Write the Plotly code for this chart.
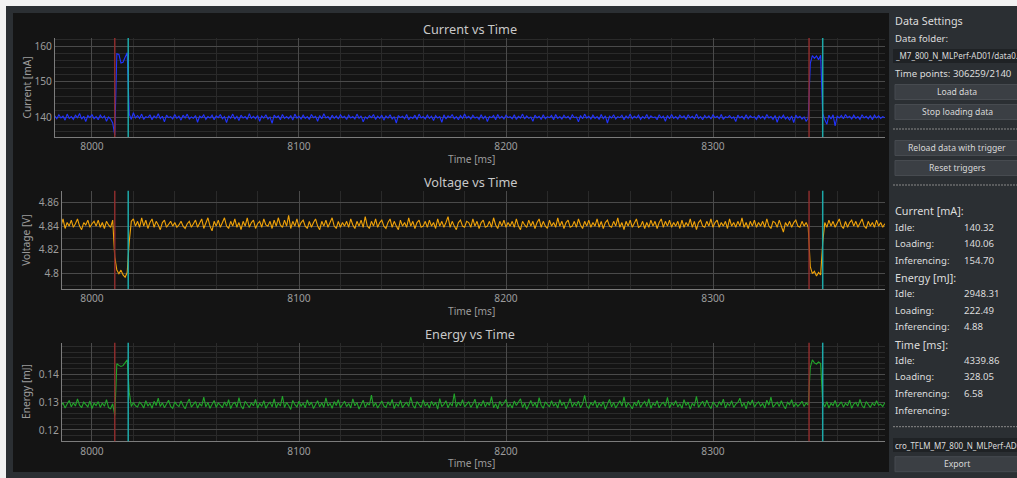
import plotly.graph_objects as go

# ---------------------------------------------------------------- data
time_ms = list(range(7982, 8384))

current_ma = [
    140.4, 139.6, 140.7, 139.8, 140.3, 139.2, 140.9, 139.7, 140.2, 139.4, 140.6, 139.9, 141.1, 139.5, 140.3, 138.8, 140.5, 139.9, 140.8, 139.6,
    140.2, 139.3, 140.6, 139.8, 140.4, 138.9, 140.1, 139.5, 138.4, 135.0, 157.9, 157.7, 155.3, 155.5, 156.9, 158.2, 140.9, 139.4, 141.3, 139.8,
    140.5, 139.7, 140.9, 139.4, 140.2, 139.9, 140.7, 139.3, 140.4, 139.8, 141.0, 139.6, 140.3, 138.7, 140.6, 139.9, 140.2, 139.5, 140.8, 139.7,
    140.3, 139.2, 140.6, 139.8, 140.9, 139.5, 140.1, 139.7, 140.5, 138.6, 140.3, 139.9, 140.7, 139.4, 140.2, 139.8, 140.6, 139.3, 140.4, 139.9,
    140.8, 139.6, 140.2, 138.5, 140.4, 139.7, 140.9, 139.5, 140.3, 139.1, 140.6, 139.8, 140.2, 139.4, 141.0, 139.7, 140.3, 139.6, 140.5, 138.9,
    140.4, 139.8, 140.7, 139.5, 140.1, 138.3, 140.6, 139.9, 140.4, 139.3, 140.8, 139.7, 140.2, 139.6, 140.5, 139.2, 140.9, 139.8, 140.3, 139.5,
    140.6, 139.7, 140.2, 139.4, 140.8, 139.9, 140.3, 138.9, 140.5, 139.6, 141.0, 139.8, 140.2, 139.3, 140.6, 139.7, 140.4, 139.5, 140.7, 139.9,
    140.3, 139.4, 140.6, 139.8, 140.2, 139.5, 140.9, 139.7, 140.4, 138.7, 140.1, 139.6, 140.5, 139.9, 140.8, 139.4, 140.3, 139.7, 140.6, 139.2,
    140.4, 139.8, 140.7, 139.5, 140.2, 138.4, 140.5, 139.9, 140.3, 139.6, 140.8, 139.3, 140.1, 139.7, 140.6, 139.4, 140.9, 139.8, 140.2, 139.5,
    140.6, 139.7, 140.3, 139.1, 140.5, 139.8, 140.2, 138.6, 140.7, 139.5, 140.4, 139.9, 140.8, 139.6, 140.2, 139.3, 140.5, 139.7, 140.9, 139.8,
    140.3, 139.5, 140.6, 139.8, 140.1, 139.4, 140.7, 139.6, 140.4, 138.8, 140.2, 139.9, 140.5, 139.3, 140.8, 139.7, 140.3, 139.5, 140.6, 139.9,
    140.2, 139.6, 140.7, 139.4, 140.3, 139.8, 140.9, 139.5, 140.4, 139.7, 140.1, 138.9, 140.6, 139.8, 140.3, 139.4, 140.7, 139.6, 140.2, 139.9,
    140.5, 139.3, 140.8, 139.7, 140.2, 139.5, 140.6, 139.8, 140.3, 139.4, 140.7, 139.9, 140.1, 138.7, 140.5, 139.6, 140.9, 139.8, 140.3, 139.5,
    140.6, 139.7, 140.2, 139.4, 140.8, 139.6, 140.4, 138.4, 140.3, 139.8, 140.7, 139.5, 140.2, 139.9, 140.6, 139.3, 140.4, 139.7, 140.9, 139.6,
    140.3, 139.8, 140.6, 139.4, 140.2, 139.7, 140.8, 139.5, 140.4, 139.9, 140.1, 139.3, 140.7, 139.8, 140.3, 138.9, 140.5, 139.6, 140.8, 139.7,
    140.2, 139.5, 140.6, 139.9, 140.4, 139.4, 140.7, 139.8, 140.3, 139.6, 140.9, 139.7, 140.2, 139.3, 140.5, 139.8, 140.4, 139.5, 140.7, 139.9,
    140.3, 139.6, 140.8, 139.4, 140.2, 139.9, 140.5, 139.7, 140.1, 138.8, 140.6, 139.8, 140.3, 139.5, 140.7, 139.6, 140.4, 139.9, 140.2, 139.4,
    140.6, 139.7, 140.3, 139.5, 140.8, 139.8, 140.2, 139.4, 140.5, 138.6, 140.3, 139.7, 140.6, 139.5, 140.1, 139.2, 140.4, 138.5, 140.6, 139.8,
    140.3, 139.5, 140.1, 138.9, 139.7, 155.2, 157.4, 156.6, 157.3, 156.2, 157.5, 141.0, 139.4, 138.0, 140.6, 139.5, 140.7, 137.6, 140.3, 139.8,
    140.5, 139.6, 140.8, 139.9, 140.3, 139.5, 140.6, 139.7, 140.2, 139.4, 140.7, 139.8, 140.3, 139.6, 140.5, 139.3, 140.6, 139.8, 140.4, 139.7,
    140.2, 139.9,
]

voltage_v = [
    4.842, 4.839, 4.844, 4.840, 4.846, 4.838, 4.843, 4.840, 4.845, 4.839, 4.842, 4.846, 4.840, 4.837, 4.843, 4.841, 4.845, 4.839, 4.842, 4.844,
    4.840, 4.845, 4.839, 4.843, 4.838, 4.844, 4.841, 4.839, 4.845, 4.814, 4.803, 4.800, 4.803, 4.799, 4.797, 4.801, 4.827, 4.844, 4.846, 4.840,
    4.844, 4.839, 4.847, 4.840, 4.845, 4.838, 4.843, 4.846, 4.839, 4.844, 4.841, 4.837, 4.843, 4.845, 4.839, 4.842, 4.844, 4.840, 4.843, 4.839,
    4.841, 4.844, 4.840, 4.838, 4.842, 4.844, 4.839, 4.842, 4.845, 4.839, 4.843, 4.846, 4.838, 4.842, 4.847, 4.840, 4.836, 4.844, 4.840, 4.845,
    4.839, 4.843, 4.847, 4.840, 4.838, 4.844, 4.840, 4.846, 4.839, 4.843, 4.837, 4.844, 4.840, 4.847, 4.839, 4.843, 4.845, 4.838, 4.842, 4.844,
    4.839, 4.846, 4.841, 4.840, 4.844, 4.838, 4.845, 4.840, 4.847, 4.841, 4.839, 4.845, 4.840, 4.849, 4.838, 4.844, 4.840, 4.846, 4.839, 4.843,
    4.845, 4.840, 4.838, 4.844, 4.839, 4.843, 4.846, 4.840, 4.837, 4.844, 4.840, 4.845, 4.839, 4.843, 4.847, 4.840, 4.838, 4.844, 4.839, 4.843,
    4.840, 4.844, 4.839, 4.846, 4.841, 4.838, 4.844, 4.840, 4.845, 4.839, 4.848, 4.840, 4.838, 4.844, 4.840, 4.846, 4.839, 4.843, 4.845, 4.840,
    4.838, 4.843, 4.846, 4.839, 4.844, 4.840, 4.837, 4.845, 4.840, 4.843, 4.839, 4.847, 4.840, 4.844, 4.838, 4.843, 4.845, 4.839, 4.840, 4.844,
    4.839, 4.845, 4.840, 4.843, 4.838, 4.846, 4.840, 4.844, 4.839, 4.843, 4.848, 4.839, 4.844, 4.840, 4.837, 4.843, 4.845, 4.840, 4.839, 4.844,
    4.843, 4.839, 4.846, 4.840, 4.844, 4.838, 4.843, 4.845, 4.839, 4.840, 4.844, 4.839, 4.847, 4.841, 4.838, 4.844, 4.840, 4.845, 4.839, 4.843,
    4.840, 4.844, 4.839, 4.846, 4.840, 4.837, 4.844, 4.841, 4.839, 4.845, 4.840, 4.844, 4.838, 4.843, 4.846, 4.839, 4.844, 4.840, 4.838, 4.845,
    4.840, 4.843, 4.839, 4.847, 4.840, 4.844, 4.838, 4.843, 4.845, 4.839, 4.840, 4.844, 4.839, 4.846, 4.841, 4.838, 4.844, 4.840, 4.845, 4.839,
    4.843, 4.840, 4.846, 4.839, 4.844, 4.838, 4.843, 4.845, 4.840, 4.839, 4.844, 4.840, 4.847, 4.839, 4.843, 4.837, 4.844, 4.840, 4.845, 4.839,
    4.843, 4.846, 4.839, 4.840, 4.844, 4.838, 4.843, 4.839, 4.845, 4.840, 4.844, 4.838, 4.843, 4.846, 4.839, 4.844, 4.840, 4.845, 4.839, 4.843,
    4.840, 4.844, 4.838, 4.845, 4.839, 4.843, 4.840, 4.846, 4.839, 4.844, 4.837, 4.843, 4.845, 4.840, 4.839, 4.844, 4.840, 4.846, 4.839, 4.843,
    4.845, 4.839, 4.843, 4.840, 4.844, 4.838, 4.846, 4.840, 4.843, 4.839, 4.844, 4.840, 4.847, 4.839, 4.843, 4.838, 4.844, 4.840, 4.845, 4.839,
    4.843, 4.840, 4.844, 4.839, 4.846, 4.840, 4.838, 4.844, 4.843, 4.839, 4.845, 4.840, 4.835, 4.843, 4.840, 4.844, 4.839, 4.843, 4.845, 4.840,
    4.839, 4.844, 4.840, 4.843, 4.839, 4.806, 4.800, 4.802, 4.798, 4.801, 4.799, 4.826, 4.843, 4.839, 4.845, 4.840, 4.844, 4.839, 4.843, 4.846,
    4.840, 4.838, 4.844, 4.839, 4.843, 4.845, 4.840, 4.844, 4.839, 4.843, 4.846, 4.840, 4.838, 4.844, 4.840, 4.843, 4.839, 4.845, 4.840, 4.843,
    4.839, 4.842,
]

energy_mj = [
    0.1295, 0.1284, 0.1301, 0.1288, 0.1297, 0.1279, 0.1293, 0.1306, 0.1283, 0.1298, 0.1286, 0.1312, 0.1289, 0.1280, 0.1300, 0.1291, 0.1283, 0.1304, 0.1277, 0.1296,
    0.1288, 0.1302, 0.1281, 0.1297, 0.1285, 0.1309, 0.1280, 0.1276, 0.1294, 0.1252, 0.1438, 0.1432, 0.1428, 0.1431, 0.1440, 0.1452, 0.1335, 0.1284, 0.1299, 0.1287,
    0.1283, 0.1300, 0.1292, 0.1279, 0.1305, 0.1286, 0.1296, 0.1278, 0.1303, 0.1288, 0.1314, 0.1284, 0.1298, 0.1280, 0.1293, 0.1307, 0.1285, 0.1278, 0.1301, 0.1290,
    0.1284, 0.1304, 0.1288, 0.1276, 0.1297, 0.1311, 0.1282, 0.1293, 0.1302, 0.1279, 0.1295, 0.1286, 0.1318, 0.1283, 0.1299, 0.1278, 0.1292, 0.1306, 0.1281, 0.1297,
    0.1289, 0.1280, 0.1301, 0.1285, 0.1309, 0.1277, 0.1294, 0.1299, 0.1282, 0.1316, 0.1286, 0.1276, 0.1303, 0.1290, 0.1281, 0.1298, 0.1287, 0.1310, 0.1279, 0.1296,
    0.1285, 0.1305, 0.1278, 0.1292, 0.1300, 0.1283, 0.1312, 0.1280, 0.1297, 0.1286, 0.1322, 0.1281, 0.1299, 0.1288, 0.1274, 0.1306, 0.1291, 0.1283, 0.1303, 0.1286,
    0.1296, 0.1280, 0.1308, 0.1288, 0.1300, 0.1277, 0.1293, 0.1305, 0.1283, 0.1298, 0.1281, 0.1315, 0.1286, 0.1296, 0.1278, 0.1302, 0.1288, 0.1309, 0.1280, 0.1293,
    0.1303, 0.1284, 0.1295, 0.1279, 0.1312, 0.1287, 0.1299, 0.1275, 0.1292, 0.1307, 0.1281, 0.1296, 0.1289, 0.1325, 0.1284, 0.1298, 0.1279, 0.1293, 0.1304, 0.1286,
    0.1281, 0.1301, 0.1288, 0.1310, 0.1277, 0.1295, 0.1285, 0.1306, 0.1280, 0.1292, 0.1299, 0.1284, 0.1318, 0.1289, 0.1278, 0.1302, 0.1291, 0.1281, 0.1308, 0.1286,
    0.1296, 0.1279, 0.1303, 0.1288, 0.1299, 0.1275, 0.1313, 0.1284, 0.1292, 0.1305, 0.1280, 0.1297, 0.1286, 0.1331, 0.1282, 0.1300, 0.1287, 0.1309, 0.1283, 0.1294,
    0.1302, 0.1281, 0.1293, 0.1311, 0.1278, 0.1297, 0.1286, 0.1306, 0.1283, 0.1299, 0.1288, 0.1320, 0.1280, 0.1294, 0.1276, 0.1303, 0.1287, 0.1296, 0.1309, 0.1282,
    0.1293, 0.1279, 0.1304, 0.1288, 0.1299, 0.1312, 0.1281, 0.1297, 0.1274, 0.1292, 0.1306, 0.1285, 0.1299, 0.1280, 0.1316, 0.1289, 0.1278, 0.1301, 0.1293, 0.1283,
    0.1305, 0.1286, 0.1296, 0.1279, 0.1309, 0.1288, 0.1300, 0.1276, 0.1293, 0.1313, 0.1283, 0.1297, 0.1287, 0.1304, 0.1280, 0.1294, 0.1324, 0.1286, 0.1278, 0.1299,
    0.1288, 0.1306, 0.1280, 0.1297, 0.1285, 0.1302, 0.1275, 0.1293, 0.1310, 0.1283, 0.1299, 0.1279, 0.1294, 0.1305, 0.1286, 0.1319, 0.1281, 0.1297, 0.1289, 0.1276,
    0.1300, 0.1286, 0.1307, 0.1281, 0.1294, 0.1302, 0.1284, 0.1312, 0.1278, 0.1296, 0.1288, 0.1305, 0.1280, 0.1293, 0.1299, 0.1285, 0.1317, 0.1279, 0.1297, 0.1289,
    0.1305, 0.1283, 0.1294, 0.1278, 0.1309, 0.1288, 0.1300, 0.1275, 0.1296, 0.1286, 0.1321, 0.1281, 0.1293, 0.1303, 0.1284, 0.1307, 0.1289, 0.1277, 0.1301, 0.1292,
    0.1282, 0.1302, 0.1289, 0.1311, 0.1279, 0.1296, 0.1287, 0.1305, 0.1281, 0.1293, 0.1299, 0.1314, 0.1284, 0.1297, 0.1276, 0.1303, 0.1290, 0.1308, 0.1282, 0.1294,
    0.1301, 0.1286, 0.1295, 0.1279, 0.1307, 0.1289, 0.1318, 0.1282, 0.1293, 0.1300, 0.1284, 0.1305, 0.1288, 0.1276, 0.1299, 0.1291, 0.1309, 0.1283, 0.1296, 0.1285,
    0.1293, 0.1303, 0.1284, 0.1297, 0.1289, 0.1425, 0.1452, 0.1441, 0.1437, 0.1444, 0.1439, 0.1300, 0.1283, 0.1302, 0.1279, 0.1296, 0.1288, 0.1306, 0.1282, 0.1294,
    0.1301, 0.1282, 0.1296, 0.1287, 0.1307, 0.1278, 0.1293, 0.1299, 0.1284, 0.1310, 0.1288, 0.1279, 0.1302, 0.1292, 0.1281, 0.1297, 0.1287, 0.1305, 0.1289, 0.1293,
    0.1284, 0.1298,
]

assert len(current_ma) == len(voltage_v) == len(energy_mj) == len(time_ms)

# trigger markers (start / end of the inference window)
trigger_start_ms = [8011.0, 8346.4]
trigger_end_ms = [8017.5, 8353.0]

plot_titles = ["Current vs Time", "Voltage vs Time", "Energy vs Time"]
y_titles = ["Current [mA]", "Voltage [V]", "Energy [mJ]"]
x_title = "Time [ms]"
x_tick_values = [8000, 8100, 8200, 8300]
current_ticks = [140, 150, 160]
voltage_ticks = [4.80, 4.82, 4.84, 4.86]
energy_ticks = [0.12, 0.13, 0.14]

folder_path = "_M7_800_N_MLPerf-AD01/data0.txt"
time_points = "Time points: 306259/2140"
export_name = "cro_TFLM_M7_800_N_MLPerf-AD01"

current_stats = [("Idle:", "140.32"), ("Loading:", "140.06"), ("Inferencing:", "154.70")]
energy_stats = [("Idle:", "2948.31"), ("Loading:", "222.49"), ("Inferencing:", "4.88")]
time_stats = [("Idle:", "4339.86"), ("Loading:", "328.05"), ("Inferencing:", "6.58"), ("Inferencing:", "")]

# ---------------------------------------------------------------- layout helpers
W, H = 1017, 478
FONT = "Noto Sans"


def px(x):
    return x / W


def py(y):
    return 1 - y / H


BG_FRAME = "#2b2f33"
BG_PLOT = "#141414"
GRID_MAJOR = "#4a4a4a"
GRID_MINOR = "#2a2a2a"
AXIS_COL = "#7c7c7c"
TICK_COL = "#9c9c9c"
TEXT_COL = "#dcdcdc"

panels = [
    dict(y=current_ma, color="#2233ff", xl=55, top=38, bottom=137, yr=[134.45, 162.34],
         ticks=current_ticks, minor=2, x0=7982.13),
    dict(y=voltage_v, color="#f0a30a", xl=62, top=190.7, bottom=289, yr=[4.78714, 4.86975],
         ticks=voltage_ticks, minor=0.01, x0=7985.51),
    dict(y=energy_mj, color="#22a52a", xl=62, top=342.7, bottom=441.3, yr=[0.11594, 0.15135],
         ticks=energy_ticks, minor=0.002, x0=7985.51),
]
XR = 885
X1 = 8383.09

fig = go.Figure()
shapes = []
annotations = []

# window frame and plot area background
shapes.append(dict(type="rect", xref="paper", yref="paper", x0=px(6), x1=1, y0=0, y1=py(6),
                   fillcolor=BG_FRAME, line=dict(width=0), layer="below"))
shapes.append(dict(type="rect", xref="paper", yref="paper", x0=px(13), x1=px(889), y0=py(472), y1=py(13),
                   fillcolor=BG_PLOT, line=dict(width=0), layer="below"))

layout_axes = {}
for i, p in enumerate(panels):
    n = "" if i == 0 else str(i + 1)
    xa, ya = "x" + n, "y" + n
    fig.add_trace(go.Scatter(x=time_ms, y=p["y"], mode="lines", xaxis=xa, yaxis=ya,
                             line=dict(color=p["color"], width=1.1), showlegend=False,
                             hoverinfo="skip"))
    layout_axes["xaxis" + n] = dict(
        domain=[px(p["xl"]), px(XR)], range=[p["x0"], X1], anchor=ya,
        tickmode="array", tickvals=x_tick_values,
        showgrid=True, gridcolor=GRID_MAJOR, gridwidth=1,
        minor=dict(tick0=8000, dtick=20, showgrid=True, gridcolor=GRID_MINOR, gridwidth=1),
        zeroline=False, showline=True, linecolor=AXIS_COL, linewidth=1, ticks="",
        tickfont=dict(family=FONT, size=10.2, color=TICK_COL), fixedrange=True,
    )
    layout_axes["yaxis" + n] = dict(
        domain=[py(p["bottom"]), py(p["top"])], range=p["yr"], anchor=xa,
        tickmode="array", tickvals=p["ticks"],
        showgrid=True, gridcolor=GRID_MAJOR, gridwidth=1,
        minor=dict(dtick=p["minor"], showgrid=True, gridcolor=GRID_MINOR, gridwidth=1),
        zeroline=False, showline=True, linecolor=AXIS_COL, linewidth=1, ticks="",
        tickfont=dict(family=FONT, size=10.2, color=TICK_COL), fixedrange=True,
    )
    for ts in trigger_start_ms:
        shapes.append(dict(type="line", xref=xa, yref=ya + " domain", x0=ts, x1=ts, y0=0, y1=1,
                           line=dict(color="rgba(145,46,46,0.95)", width=1.5), layer="above"))
    for te in trigger_end_ms:
        shapes.append(dict(type="line", xref=xa, yref=ya + " domain", x0=te, x1=te, y0=0, y1=1,
                           line=dict(color="rgba(30,176,176,0.95)", width=1.5), layer="above"))
    mid = (p["top"] + p["bottom"]) / 2
    annotations.append(dict(text=plot_titles[i], xref="paper", yref="paper", x=px(470),
                            y=py(p["top"] - 9), showarrow=False, xanchor="center", yanchor="middle",
                            font=dict(family=FONT, size=12.7, color="#c8c8c8")))
    annotations.append(dict(text=y_titles[i], xref="paper", yref="paper", x=px(26), y=py(mid),
                            showarrow=False, textangle=-90, xanchor="center", yanchor="middle",
                            font=dict(family=FONT, size=10.2, color=TICK_COL)))
    annotations.append(dict(text=x_title, xref="paper", yref="paper", x=px(471),
                            y=py(p["bottom"] + 22), showarrow=False, xanchor="center", yanchor="middle",
                            font=dict(family=FONT, size=10.2, color=TICK_COL)))

# ---------------------------------------------------------------- settings panel
LX = 893
VX = 962


def label(text, y, x=LX, size=9.6, anchor="left", color=TEXT_COL):
    annotations.append(dict(text=text, xref="paper", yref="paper", x=px(x), y=py(y),
                            showarrow=False, xanchor=anchor, yanchor="middle",
                            font=dict(family=FONT, size=size, color=color)))


def button(text, y0, y1):
    shapes.append(dict(type="rect", xref="paper", yref="paper", x0=px(895), x1=px(1019),
                       y0=py(y1), y1=py(y0), fillcolor="#3b3f44",
                       line=dict(color="#474b50", width=1), layer="below"))
    label(text, (y0 + y1) / 2, x=957, size=8.6, anchor="center", color="#d8d8d8")


def textbox(text, y0, y1):
    shapes.append(dict(type="rect", xref="paper", yref="paper", x0=px(893), x1=1,
                       y0=py(y1), y1=py(y0), fillcolor="#1f2225", line=dict(width=0), layer="below"))
    label(text, (y0 + y1) / 2, x=LX, size=8)


def dashed(y):
    shapes.append(dict(type="line", xref="paper", yref="paper", x0=px(893), x1=1, y0=py(y), y1=py(y),
                       line=dict(color="#8a8a8a", width=1, dash="2px,1px"), layer="below"))


label("Data Settings", 21, size=10.8)
label("Data folder:", 38.5)
textbox(folder_path, 49, 63)
label(time_points, 73.5)
button("Load data", 84.5, 99.5)
button("Stop loading data", 104.5, 119.5)
dashed(129)
button("Reload data with trigger", 140.5, 155.5)
button("Reset triggers", 160.5, 175.5)
dashed(185)

rows_y = {
    "Current [mA]:": (211, [227, 243.7, 260]),
    "Energy [mJ]:": (277.7, [293.7, 310, 326.7]),
    "Time [ms]:": (344.3, [360.3, 376.7, 393.3, 410]),
}
for (head, (hy, ys)), stats in zip(rows_y.items(), [current_stats, energy_stats, time_stats]):
    label(head, hy, size=10.8)
    for (name, val), yy in zip(stats, ys):
        label(name, yy)
        if val:
            label(val, yy, x=VX)

dashed(426.7)
textbox(export_name, 438, 452)
button("Export", 456.7, 471.7)

fig.update_layout(
    width=W, height=H, margin=dict(l=0, r=0, t=0, b=0),
    paper_bgcolor="#f2f2f2", plot_bgcolor="rgba(0,0,0,0)",
    shapes=shapes, annotations=annotations, showlegend=False,
    font=dict(family=FONT),
    **layout_axes,
)

fig.write_html("out.html", config={"displayModeBar": False})
